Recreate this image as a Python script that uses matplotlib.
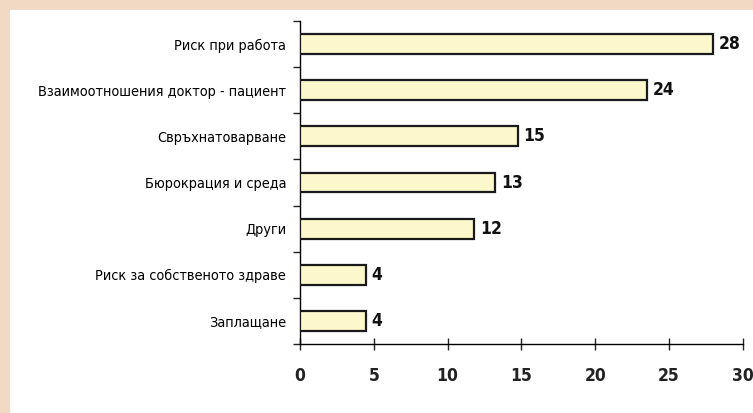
import matplotlib
matplotlib.use('Agg')
import matplotlib.pyplot as plt
from matplotlib.patches import Rectangle

# данни (отгоре надолу)
categories = ['Риск при работа', 'Взаимоотношения доктор - пациент', 'Свръхнатоварване',
              'Бюрокрация и среда', 'Други', 'Риск за собственото здраве', 'Заплащане']
values = [27.97, 23.5, 14.75, 13.2, 11.8, 4.45, 4.45]
value_labels = ['28', '24', '15', '13', '12', '4', '4']
x_ticks = [0, 5, 10, 15, 20, 25, 30]

plt.rcParams['font.family'] = ['DejaVu Sans']
plt.rcParams['font.stretch'] = 'condensed'

fig = plt.figure(figsize=(7.53, 4.13), dpi=100)
fig.patch.set_facecolor('#f2d9c3')
fig.patches.append(Rectangle((10 / 753, 0), 1, 1 - 10 / 413, transform=fig.transFigure,
                             facecolor='white', edgecolor='none', zorder=-10))

ax = fig.add_axes([300 / 753, 1 - 344 / 413, 442.7 / 753, 323 / 413])
ax.set_facecolor('none')

n = len(categories)
pos = list(range(n))
ax.barh(pos, values, height=0.43, color='#fcf8cc', edgecolor='#1a1a1a', linewidth=1.6, zorder=3)
for p, v, lab in zip(pos, values, value_labels):
    ax.text(v + 0.4, p, lab, va='center', ha='left', fontsize=12.5, fontweight='bold',
            fontstretch='condensed', color='#111111')

ax.set_xlim(0, 30)
ax.set_ylim(n - 0.5, -0.5)
ax.set_xticks(x_ticks)
ax.set_xticklabels([str(t) for t in x_ticks], fontsize=12.5, fontweight='bold', fontstretch='condensed')
ax.tick_params(axis='x', direction='inout', length=9, width=1, pad=12, colors='#222222')

# категории без тикове, тиковете са по границите
ax.set_yticks(pos)
ax.set_yticklabels(categories, fontsize=10.4, fontstretch='condensed')
ax.tick_params(axis='y', length=0, pad=10)
ax.set_yticks([i - 0.5 for i in range(n + 1)], minor=True)
ax.tick_params(axis='y', which='minor', direction='out', length=5, width=1, colors='#222222')

for s in ['top', 'right']:
    ax.spines[s].set_visible(False)
ax.spines['left'].set_linewidth(1)
ax.spines['bottom'].set_linewidth(1)

fig.savefig('out.png', dpi=100, facecolor=fig.get_facecolor())
